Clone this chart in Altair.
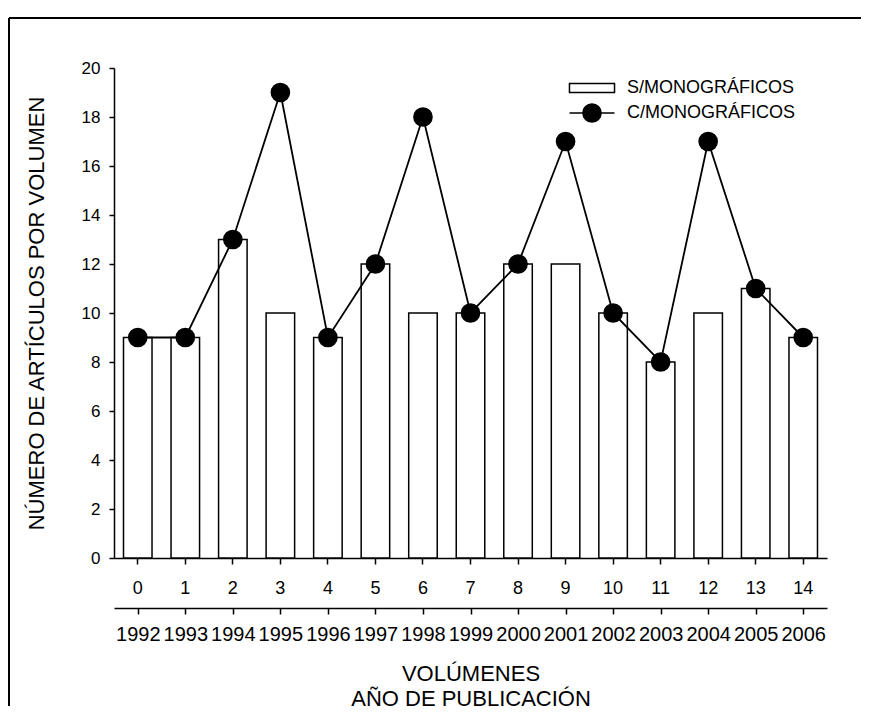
import altair as alt
import pandas as pd

volumes = list(range(15))
years = [str(y) for y in range(1992, 2007)]
sin_mono = [9, 9, 13, 10, 9, 12, 10, 10, 12, 12, 10, 8, 10, 11, 9]
con_mono = [9, 9, 13, 19, 9, 12, 18, 10, 12, 17, 10, 8, 17, 11, 9]
series = ["S/MONOGRÁFICOS", "C/MONOGRÁFICOS"]

df = pd.DataFrame({"vol": [str(v) for v in volumes], "year": years,
                   "S": sin_mono, "C": con_mono,
                   "sname": series[0], "cname": series[1]})
frame_df = pd.DataFrame({"k": [0]})

FONT = "Liberation Sans"
W, H = 713, 490
vol_order = [str(v) for v in volumes]

x_vol = alt.X("vol:O", sort=vol_order,
              scale=alt.Scale(paddingInner=0.4, paddingOuter=0.2),
              axis=alt.Axis(title=None, labelAngle=0, tickSize=6, labelPadding=15,
                            labelFontSize=18, bandPosition=0.5, domainWidth=1.5,
                            tickWidth=1.5))
y_val = alt.Y("S:Q", scale=alt.Scale(domain=[0, 20]),
              axis=alt.Axis(values=list(range(0, 21, 2)), grid=False, tickSize=5,
                            labelPadding=9, labelFontSize=17,
                            title="NÚMERO DE ARTÍCULOS POR VOLUMEN",
                            titleFontSize=22, titleFontWeight="normal",
                            titlePadding=33, domainWidth=1.5, tickWidth=1.5))

frame_left = alt.Chart(frame_df).mark_rule(color="black", strokeWidth=2).encode(
    x=alt.value(-105), y=alt.value(-50), y2=alt.value(H + 148))
frame_top = alt.Chart(frame_df).mark_rule(color="black", strokeWidth=2).encode(
    y=alt.value(-50), x=alt.value(-105), x2=alt.value(W + 34))

# legend symbol paths, for symbol size 330
path_s = "M-2.48,-0.5H2.48V0.5H-2.48Z"
path_c = ("M-2.48,0H-1.0M1.0,0H2.48M-1.0,0A1.0,1.0 0 1,0 1.0,0"
          "A1.0,1.0 0 1,0 -1.0,0Z")

leg_common = dict(title=None, orient="none", symbolSize=330, labelFontSize=18,
                  labelOffset=25, symbolStrokeWidth=1.5, labelFont=FONT,
                  labelLimit=400, symbolStrokeColor="black")

bars = alt.Chart(df).mark_bar(stroke="black", strokeWidth=1.5).encode(
    x=x_vol, y=y_val,
    fill=alt.Fill("sname:N", scale=alt.Scale(domain=[series[0]], range=["white"]),
                  legend=alt.Legend(legendX=468, legendY=10, symbolType=path_s,
                                    symbolFillColor="white", **leg_common)))

line = alt.Chart(df).mark_line(color="black", strokeWidth=1.8).encode(
    x=x_vol, y=alt.Y("C:Q"))

points = alt.Chart(df).mark_circle(size=330, stroke="black", strokeWidth=1.5,
                                   opacity=1).encode(
    x=x_vol, y=alt.Y("C:Q"),
    color=alt.Color("cname:N", scale=alt.Scale(domain=[series[1]], range=["black"]),
                    legend=alt.Legend(legendX=468, legendY=35, symbolType=path_c,
                                      **leg_common)))

years_layer = alt.Chart(df).mark_point(opacity=0).encode(
    x=alt.X("year:O", sort=years,
            scale=alt.Scale(paddingInner=0.4, paddingOuter=0.2),
            axis=alt.Axis(orient="bottom", offset=50, labelAngle=0, tickSize=6,
                          labelPadding=10, labelFontSize=20, bandPosition=0.5,
                          title=["VOLÚMENES", "AÑO DE PUBLICACIÓN"],
                          titleFontSize=22, titleFontWeight="normal",
                          titlePadding=19, titleLineHeight=25,
                          domainWidth=1.5, tickWidth=1.5))
)

inner = alt.layer(frame_left, frame_top, bars, line, points).resolve_legend(
    fill="independent", color="independent")
chart = alt.layer(inner, years_layer).resolve_scale(x="independent").properties(
    width=W, height=H,
    padding={"left": 0, "top": 9, "right": 0, "bottom": 0},
).configure(font=FONT).configure_view(stroke=None).configure_axis(
    domainColor="black", tickColor="black", labelColor="black", titleColor="black",
    labelFont=FONT, titleFont=FONT)

chart.save("out.html", embed_options={"renderer": "svg", "actions": False})
